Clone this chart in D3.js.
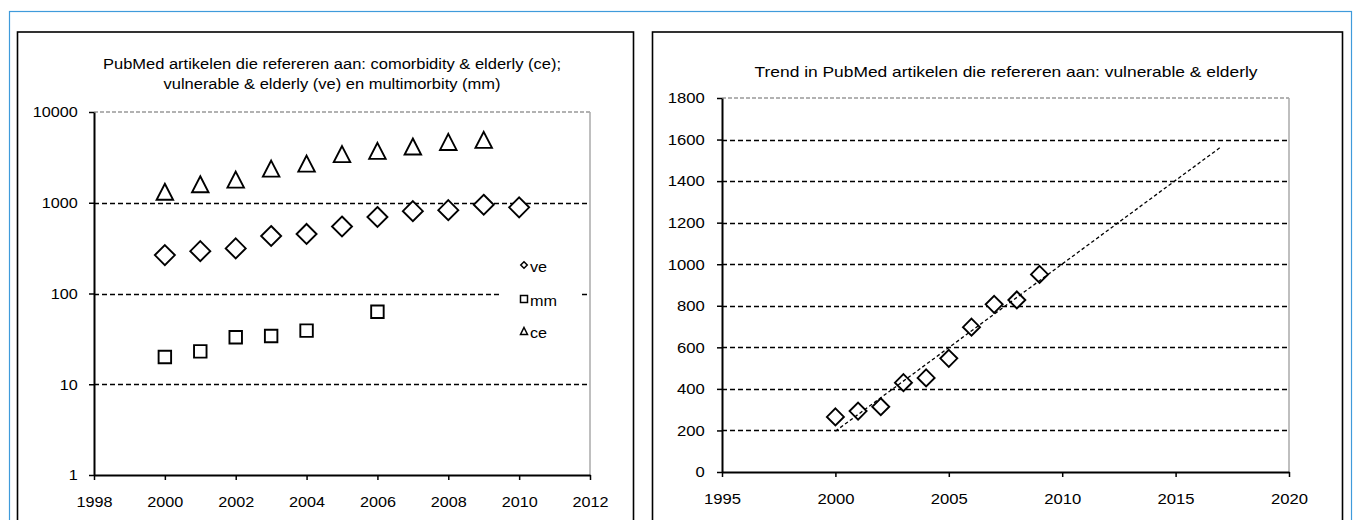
<!DOCTYPE html>
<html>
<head>
<meta charset="utf-8">
<script src="https://cdn.jsdelivr.net/npm/d3@7"></script>
<style>
  html, body { margin: 0; padding: 0; background: #fff; }
  svg { display: block; }
  text { font-family: "Liberation Sans", Arial, sans-serif; fill: #000; }
</style>
</head>
<body>
<svg id="chart" width="1354" height="520"></svg>
<script>
// ---------- data ----------
const veYears = [2000, 2001, 2002, 2003, 2004, 2005, 2006, 2007, 2008, 2009, 2010];
const veValues = [265, 293, 314, 430, 453, 547, 697, 807, 828, 951, 890];
const mmYears = [2000, 2001, 2002, 2003, 2004, 2006];
const mmValues = [20, 23, 33, 34, 39, 63];
const ceYears = [2000, 2001, 2002, 2003, 2004, 2005, 2006, 2007, 2008, 2009];
const ceValues = [1320, 1600, 1800, 2380, 2700, 3430, 3730, 4170, 4680, 4930];
const trendYears = [2000, 2001, 2002, 2003, 2004, 2005, 2006, 2007, 2008, 2009];
const trendValues = [265, 293, 314, 430, 453, 547, 697, 807, 828, 951];
const trendExtent = [2000, 2017];
const leftXTicks = [1998, 2000, 2002, 2004, 2006, 2008, 2010, 2012];
const leftYTicks = [1, 10, 100, 1000, 10000];
const rightXTicks = [1995, 2000, 2005, 2010, 2015, 2020];
const rightYTicks = [0, 200, 400, 600, 800, 1000, 1200, 1400, 1600, 1800];
const legendLabels = ["ve", "mm", "ce"];
const leftTitle = ["PubMed artikelen die refereren aan: comorbidity & elderly (ce);",
                   "vulnerable & elderly (ve) en multimorbity (mm)"];
const rightTitle = "Trend in PubMed artikelen die refereren aan: vulnerable & elderly";

// ---------- helpers ----------
const svg = d3.select("#chart");
const FONT = 15;

function diamond(w, h) { return `M0,${-h/2}L${w/2},0L0,${h/2}L${-w/2},0Z`; }
function square(s) { return `M${-s/2},${-s/2}h${s}v${s}h${-s}Z`; }
function triangle(w, h) { return `M0,${-h/2}L${w/2},${h/2}L${-w/2},${h/2}Z`; }

// outer frames
svg.append("rect").attr("x", 9.5).attr("y", 11.5).attr("width", 1342).attr("height", 600)
  .attr("fill", "none").attr("stroke", "#3f9bdb").attr("stroke-width", 1.2);
svg.append("rect").attr("x", 17.5).attr("y", 32).attr("width", 616).attr("height", 600)
  .attr("fill", "#fff").attr("stroke", "#000").attr("stroke-width", 1.6);
svg.append("rect").attr("x", 652.5).attr("y", 32).attr("width", 690).attr("height", 600)
  .attr("fill", "#fff").attr("stroke", "#000").attr("stroke-width", 1.6);

function styleAxis(stretch) {
  return g => {
    g.select(".domain").attr("stroke", "#000").attr("stroke-width", 2);
    g.selectAll(".tick line").attr("stroke", "#000").attr("stroke-width", 1.5);
    g.selectAll(".tick text").attr("font-size", FONT).attr("fill", "#000")
      .attr("font-family", '"Liberation Sans", Arial, sans-serif')
      .attr("transform", `scale(${stretch},1)`);
  };
}

function frame(y, xr, yTop, yBottom, gridVals) {
  svg.append("g").selectAll("line").data(gridVals).join("line")
    .attr("x1", xr[0]).attr("x2", xr[1])
    .attr("y1", d => Math.round(y(d)) + 0.5).attr("y2", d => Math.round(y(d)) + 0.5)
    .attr("stroke", "#000").attr("stroke-width", 1.5).attr("stroke-dasharray", "5,3");
  svg.append("line").attr("x1", xr[0]).attr("x2", xr[1]).attr("y1", yTop).attr("y2", yTop)
    .attr("stroke", "#999").attr("stroke-width", 1.5).attr("stroke-dasharray", "4,2");
  svg.append("line").attr("x1", xr[1]).attr("x2", xr[1]).attr("y1", yTop).attr("y2", yBottom)
    .attr("stroke", "#aaa").attr("stroke-width", 1.5);
}

const markerStyle = sel => sel.attr("fill", "#fff").attr("stroke", "#000").attr("stroke-width", 1.9);

// ---------- left chart ----------
const xL = d3.scaleLinear().domain([1998, 2012]).range([94, 590]);
const yL = d3.scaleLog().domain([1, 10000]).range([475, 112]);
const SL = 1.08;

frame(yL, [94, 590], yL(10000), yL(1), [10, 100, 1000]);

const legend = svg.append("g");
legend.append("rect").attr("x", 501).attr("y", 250).attr("width", 78).attr("height", 95).attr("fill", "#fff");

svg.append("g").attr("transform", `translate(94,0)`)
  .call(d3.axisLeft(yL).tickValues(leftYTicks).tickFormat(d3.format("d")).tickSize(5).tickSizeOuter(0).tickPadding(10))
  .call(styleAxis(SL));
svg.append("g").attr("transform", `translate(0,475)`)
  .call(d3.axisBottom(xL).tickValues(leftXTicks).tickFormat(d3.format("d")).tickSize(5).tickSizeOuter(0).tickPadding(16))
  .call(styleAxis(SL));

svg.append("g").selectAll("path").data(ceYears.map((d, i) => [d, ceValues[i]])).join("path")
  .attr("transform", d => `translate(${xL(d[0])},${yL(d[1])})`)
  .attr("d", triangle(16.5, 16)).call(markerStyle);
svg.append("g").selectAll("path").data(veYears.map((d, i) => [d, veValues[i]])).join("path")
  .attr("transform", d => `translate(${xL(d[0])},${yL(d[1])})`)
  .attr("d", diamond(20, 20)).call(markerStyle);
svg.append("g").selectAll("path").data(mmYears.map((d, i) => [d, mmValues[i]])).join("path")
  .attr("transform", d => `translate(${xL(d[0])},${yL(d[1])})`)
  .attr("d", square(12.5)).call(markerStyle);

const legendShapes = [diamond(6.5, 6.5), square(7), triangle(7, 7)];
const legendRowY = [265, 299, 331];
legendLabels.forEach((lab, i) => {
  legend.append("path").attr("transform", `translate(524,${legendRowY[i]})`)
    .attr("d", legendShapes[i]).attr("fill", "#fff").attr("stroke", "#000").attr("stroke-width", 1.5);
  legend.append("text").attr("transform", `translate(530,${legendRowY[i] + 7}) scale(${SL},1)`)
    .attr("font-size", FONT).text(lab);
});

leftTitle.forEach((t, i) => {
  svg.append("text").attr("transform", `translate(332,${68.5 + i * 20}) scale(1.1,1)`)
    .attr("text-anchor", "middle").attr("font-size", FONT).text(t);
});

// ---------- right chart ----------
const xR = d3.scaleLinear().domain([1995, 2020]).range([722, 1289]);
const yR = d3.scaleLinear().domain([0, 1800]).range([472, 98]);
const SR = 1.11;

frame(yR, [722, 1289], yR(1800), yR(0), rightYTicks.filter(d => d > 0 && d < 1800));

svg.append("g").attr("transform", `translate(722,0)`)
  .call(d3.axisLeft(yR).tickValues(rightYTicks).tickFormat(d3.format("d")).tickSize(5).tickSizeOuter(0).tickPadding(10.5))
  .call(styleAxis(SR));
svg.append("g").attr("transform", `translate(0,472)`)
  .call(d3.axisBottom(xR).tickValues(rightXTicks).tickFormat(d3.format("d")).tickSize(5).tickSizeOuter(0).tickPadding(16))
  .call(styleAxis(SR));

svg.append("g").selectAll("path").data(trendYears.map((d, i) => [d, trendValues[i]])).join("path")
  .attr("transform", d => `translate(${xR(d[0])},${yR(d[1])})`)
  .attr("d", diamond(17, 17)).call(markerStyle);

// linear least-squares trend of the vulnerable & elderly counts
const mx = d3.mean(trendYears), my = d3.mean(trendValues);
const slope = d3.sum(trendYears, (d, i) => (d - mx) * (trendValues[i] - my)) /
              d3.sum(trendYears, d => (d - mx) * (d - mx));
const icpt = my - slope * mx;
svg.append("path")
  .datum(trendExtent.map(t => [t, icpt + slope * t]))
  .attr("d", d3.line().x(d => xR(d[0])).y(d => yR(d[1])))
  .attr("fill", "none").attr("stroke", "#000").attr("stroke-width", 1.3).attr("stroke-dasharray", "3.5,2.5");

svg.append("text").attr("transform", `translate(1006,77) scale(1.16,1)`)
  .attr("text-anchor", "middle").attr("font-size", FONT).text(rightTitle);
</script>
</body>
</html>
